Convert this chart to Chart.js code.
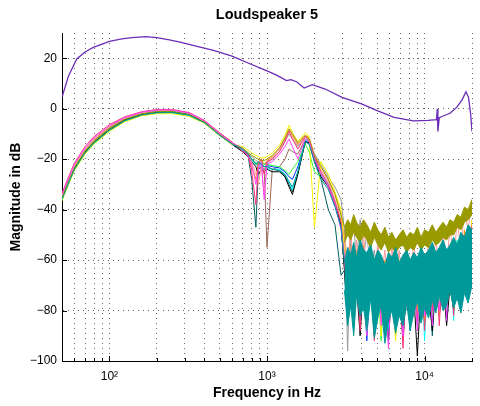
<!DOCTYPE html>
<html>
<head>
<meta charset="utf-8">
<script src="https://cdn.jsdelivr.net/npm/chart.js@4/dist/chart.umd.min.js"></script>
<style>
  html, body { margin: 0; padding: 0; background: #fff; }
  #wrap { width: 480px; height: 406px; }
</style>
</head>
<body>
<div id="wrap"><canvas id="chart" width="480" height="406"></canvas></div>
<script>
// frequency points (Hz) shared by the measurement curves
const freqs = [
  50, 55, 60, 70, 80, 100, 125, 160, 200, 250, 320, 400, 500, 600,
  700, 760, 800, 850, 880, 920, 960, 1000, 1080, 1200, 1300, 1380, 1450, 1570, 1750, 1850, 2000, 2200, 2450, 2700, 2950,
  3100, 3250, 3400, 3550, 3700, 3900, 4100, 4300, 4550, 4800, 5050, 5300, 5600, 5900, 6200, 6550, 6900, 7300, 7700, 8100,
  8550, 9000, 9500, 10000, 10600, 11200, 11800, 12400, 13100, 13800, 14500, 15300, 16100, 17000, 17900, 18900, 20000
];
const bandStart = 35; // first index of the noisy high-frequency band

const tealDb = [
  -36, -29.5, -24, -17.5, -13.5, -8.5, -4.8, -2.5, -1.6, -1.5, -2.6, -5.5, -10.5, -14,
  -16, -18, -20, -22, -21, -22, -23, -23, -24, -24.5, -26, -29, -31, -25, -13, -14, -21, -28, -32, -39, -47,
  -61, -55, -58, -53, -59, -52, -56, -57, -54, -60, -56, -58, -62, -57, -59, -55, -61, -58, -56, -60,
  -57, -59, -55, -58, -56, -53, -57, -55, -52, -56, -54, -51, -54, -49, -51, -46, -48
];
const tealLowDb = [
  -72, -86, -78, -90, -74, -82, -79, -88, -75, -91, -83, -78, -93, -84, -80, -89, -82, -86, -77, -88,
  -81, -76, -85, -79, -83, -76, -81, -74, -80, -78, -72, -79, -75, -81, -73, -77, -70
];
const oliveDb = [
  -35.5, -29, -23.5, -17, -13, -8, -4.3, -2.1, -1.2, -1.2, -2.4, -5.3, -10.3, -13.8,
  -15.5, -17.5, -18.5, -19.5, -20, -20.5, -20.5, -20, -18.5, -15.5, -11.5, -8, -10, -13.5, -10.5, -12, -19, -23, -28, -34, -42,
  -47, -44, -46, -42, -45, -47, -44, -46, -49, -45, -48, -50, -47, -51, -49, -52, -50, -48, -51, -49,
  -50, -47, -51, -48, -49, -46, -49, -47, -45, -47, -44, -45, -42, -43, -39, -40, -36
];
const oliveLowDb = [
  -53, -50, -52, -49, -51, -53, -50, -52, -55, -51, -54, -56, -53, -57, -55, -57, -55, -54, -57, -55,
  -56, -53, -56, -54, -55, -52, -54, -53, -51, -52, -50, -50, -47, -48, -45, -44, -42
];
const magentaDb = [
  -34, -27.5, -22, -15.5, -11.5, -6.8, -3.5, -1.4, -0.5, -0.5, -1.7, -4.8, -9.8, -13.5,
  -16, -19, -22, -30, -24, -21, -36, -22, -21, -18, -15, -12, -15, -20, -12, -13, -20, -26, -31, -38, -48,
  -58, -75, -62, -85, -60, -78, -64, -90, -66, -80, -62, -86, -70, -95, -64, -82, -68, -90, -62, -84,
  -66, -88, -60, -82, -64, -86, -62, -80, -60, -84, -58, -78, -56, -80, -52, -70, -48
];
const hotpinkDb = [
  -33.5, -27, -21.5, -15, -11, -6.3, -3.2, -1.2, -0.3, -0.3, -1.5, -4.6, -9.5, -13.2,
  -17, -18, -25, -38, -22, -20, -26, -21, -20, -17, -13, -9, -12, -16, -11, -12, -19, -25, -30, -37, -45,
  -60, -82, -58, -76, -62, -88, -60, -80, -64, -92, -62, -78, -66, -85, -60, -82, -64, -95, -62, -80,
  -60, -84, -58, -88, -62, -80, -60, -86, -58, -78, -56, -82, -54, -76, -50, -72, -46
];
const yellowDb = [
  -36.5, -30, -24.5, -18, -14, -9, -5.2, -2.8, -2, -2, -3, -5.8, -10.6, -14.2,
  -15, -16.5, -17.5, -18.5, -19, -19.5, -19.5, -19, -17.5, -14.5, -10.5, -6.5, -9.5, -13, -9.5, -11, -47, -21, -26, -33, -40,
  -56, -70, -60, -84, -58, -76, -62, -88, -60, -74, -64, -90, -62, -82, -66, -92, -60, -78, -64, -86,
  -62, -80, -58, -84, -62, -78, -60, -82, -58, -76, -56, -80, -54, -74, -50, -68, -44
];
const salmonDb = [
  -34.5, -28, -22.5, -16, -12, -7, -3.7, -1.6, -0.6, -0.6, -1.8, -4.9, -9.9, -13.4,
  -16, -18, -21, -26, -30, -23, -34, -21, -19.5, -16, -12, -8.5, -11, -14.5, -11, -12.5, -19, -24, -29, -36, -44,
  -50, -62, -48, -66, -52, -70, -50, -64, -54, -72, -52, -68, -56, -74, -54, -70, -56, -76, -54, -68,
  -52, -72, -54, -70, -52, -66, -50, -70, -48, -64, -46, -62, -44, -56, -40, -48, -36
];
const blackDb = [
  -35.8, -29.2, -23.7, -17.2, -13.2, -8.2, -4.5, -2.3, -1.4, -1.3, -2.4, -5.4, -10.4, -14,
  -17, -19, -21, -23, -26, -24, -25, -24, -25, -25, -27, -31, -34, -26, -13, -13.5, -20, -27, -31, -38, -46,
  -64, -84, -66, -78, -70, -90, -68, -82, -72, -88, -70, -80, -74, -92, -70, -84, -76, -90, -72, -86,
  -74, -98, -70, -84, -72, -88, -70, -82, -68, -86, -70, -80, -66, -78, -62, -74, -56
];
const cyanDb = [
  -36.2, -29.8, -24.3, -17.8, -13.8, -8.8, -5, -2.7, -1.8, -1.7, -2.8, -5.6, -10.6, -14.1,
  -16.5, -18.5, -20.5, -22, -23, -22.5, -24, -23.5, -24, -24, -26, -29, -32, -25, -12.5, -13, -19, -26, -30, -37, -45,
  -60, -80, -62, -74, -58, -86, -60, -76, -64, -82, -60, -78, -62, -88, -58, -74, -60, -80, -56, -84,
  -62, -78, -58, -92, -60, -76, -58, -82, -56, -78, -54, -84, -52, -74, -50, -70, -48
];
const greenDb = [
  -35.6, -29, -23.5, -17, -13, -8, -4.4, -2.2, -1.3, -1.2, -2.3, -5.3, -10.3, -13.9,
  -16, -18, -20, -21.5, -22, -21, -22, -22, -22.5, -23, -24.5, -26, -24, -21, -14, -17, -25, -27, -31, -38, -46,
  -62, -78, -64, -84, -60, -76, -66, -88, -62, -80, -66, -92, -64, -82, -60, -78, -64, -86, -62, -80,
  -60, -84, -62, -78, -60, -82, -58, -76, -60, -80, -56, -78, -54, -72, -52, -70, -48
];
const grayDb = [
  -35.2, -28.7, -23.2, -16.7, -12.7, -7.7, -4.1, -1.9, -0.9, -0.9, -2.1, -5.1, -10.1, -13.6,
  -16, -17.5, -19, -20.5, -21, -21.5, -22, -21.5, -20, -17, -13, -10, -12, -15, -11, -13, -18, -22, -27, -31, -36,
  -48, -96, -52, -46, -60, -44, -58, -50, -64, -56, -70, -60, -74, -62, -76, -60, -72, -64, -80, -62,
  -70, -66, -84, -64, -72, -62, -78, -60, -70, -58, -74, -56, -68, -54, -62, -50, -46
];
const orangeDb = [
  -34.8, -28.3, -22.8, -16.3, -12.3, -7.3, -3.8, -1.6, -0.6, -0.5, -1.8, -4.9, -9.9, -13.4,
  -17, -19, -23, -28, -21, -20, -22, -20.5, -19, -16, -12, -8, -10.5, -14, -10.5, -11.5, -18, -23, -28, -34, -42,
  -52, -64, -48, -72, -56, -66, -54, -80, -58, -70, -56, -84, -60, -74, -58, -90, -62, -76, -60, -82,
  -58, -74, -56, -86, -60, -72, -58, -80, -56, -74, -54, -78, -52, -70, -48, -64, -44
];
const darktealDb = [
  -36, -29.6, -24.1, -17.6, -13.6, -8.6, -4.9, -2.6, -1.7, -1.6, -2.7, -5.6, -10.6, -14.2,
  -17, -19, -28, -47, -24, -23, -24, -23, -24, -24.5, -26.5, -30, -33, -25.5, -13, -13.5, -21, -28, -40, -46, -66,
  -64, -82, -60, -70, -66, -86, -64, -76, -68, -90, -66, -80, -70, -88, -66, -78, -70, -92, -68, -82,
  -66, -86, -64, -80, -66, -90, -64, -78, -62, -84, -60, -76, -58, -72, -54, -68, -50
];
const blueDb = [
  -35.4, -28.9, -23.4, -16.9, -12.9, -7.9, -4.2, -2, -1, -1, -2.2, -5.2, -10.2, -13.7,
  -16.5, -18.5, -20, -21.5, -22, -22, -23, -22.5, -23, -23.5, -25, -27, -28, -23, -13, -14, -20, -26, -31, -38, -46,
  -62, -76, -64, -80, -60, -72, -66, -92, -64, -80, -62, -78, -66, -86, -64, -80, -62, -84, -60, -88,
  -64, -78, -60, -82, -62, -86, -60, -80, -58, -84, -56, -76, -54, -74, -52, -68, -48
];
const brownDb = [
  -35.1, -28.6, -23.1, -16.6, -12.6, -7.6, -4, -1.8, -0.8, -0.8, -2, -5, -10, -13.5,
  -16.5, -18, -20, -22, -23, -24, -25, -55, -24, -23, -20, -16, -17, -18, -12, -13, -20, -26, -30, -37, -45,
  -62, -80, -64, -76, -62, -84, -66, -78, -64, -86, -62, -80, -66, -88, -64, -82, -62, -86, -60, -80,
  -64, -84, -62, -78, -60, -82, -58, -80, -56, -78, -56, -74, -54, -72, -50, -68, -46
];

// the smooth curve at the top
const topFreqs = [
  50, 55, 62, 70, 79, 90, 100, 120, 139, 170, 200, 240, 285, 360, 464, 600, 745, 1000, 1150, 1330, 1420,
  1550, 1720, 1940, 2340, 2990, 3980, 5000, 6400, 8500, 10500, 11900, 12050, 12150, 12400, 13000, 14500,
  16000, 17300, 18300, 19000, 19600, 20000
];
const topDb = [
  4.5, 13, 19.7, 22.5, 24.3, 25.6, 26.7, 27.7, 28.2, 28.6, 28.2, 27.3, 26.3, 24.7, 23, 20.8, 18.3, 15, 13.3, 11.1, 11.5,
  10.6, 8.2, 9.5, 7.8, 4.5, 1.9, -0.8, -3.4, -4.8, -4.6, -4.3, 0, -9, -3.6, -3, -1.8,
  0.5, 3.5, 6.7, 4.5, -2, -9
];

const yTicks = [-100, -80, -60, -40, -20, 0, 20];
const xGrid = [50, 60, 70, 80, 90, 100, 200, 300, 400, 500, 600, 700, 800, 900,
  1000, 2000, 3000, 4000, 5000, 6000, 7000, 8000, 9000, 10000, 20000];
const xLabels = { 100: '10²', 1000: '10³', 10000: '10⁴' };

const toPoints = (xs, ys) => xs.map((x, i) => ({ x: x, y: ys[i] }));
const bandPoints = (ys) => freqs.map((x, i) => ({ x: x, y: i < bandStart ? null : ys[i - bandStart] }));

const line = (data, color, extra) => Object.assign({
  data: data,
  borderColor: color,
  backgroundColor: color,
  borderWidth: 1,
  pointRadius: 0,
  fill: false,
  tension: 0
}, extra || {});

// index 0 is painted last (on top)
const datasets = [
  line(toPoints(topFreqs, topDb), '#6a2db5', { borderWidth: 1.3 }),
  line(bandPoints(tealLowDb), '#009999', { fill: '+1' }),
  line(toPoints(freqs, tealDb), '#009999'),
  line(toPoints(freqs, magentaDb), '#ff40ff'),
  line(bandPoints(oliveLowDb), '#999900', { fill: '+1' }),
  line(toPoints(freqs, oliveDb), '#999900'),
  line(toPoints(freqs, hotpinkDb), '#ff3377'),
  line(toPoints(freqs, yellowDb), '#f5f500'),
  line(toPoints(freqs, salmonDb), '#ff9999'),
  line(toPoints(freqs, blackDb), '#000000'),
  line(toPoints(freqs, cyanDb), '#00ffff'),
  line(toPoints(freqs, greenDb), '#33ff33'),
  line(toPoints(freqs, grayDb), '#999999'),
  line(toPoints(freqs, orangeDb), '#ff9900'),
  line(toPoints(freqs, darktealDb), '#005f5f'),
  line(toPoints(freqs, blueDb), '#0033ff'),
  line(toPoints(freqs, brownDb), '#996655')
];

// MATLAB style tick marks pointing into the axes
const innerTicks = {
  id: 'innerTicks',
  afterDraw(chart) {
    const { ctx, chartArea, scales } = chart;
    ctx.save();
    ctx.strokeStyle = '#000';
    ctx.lineWidth = 1;
    ctx.beginPath();
    yTicks.forEach(v => {
      const y = Math.round(scales.y.getPixelForValue(v)) + 0.5;
      ctx.moveTo(chartArea.left, y);
      ctx.lineTo(chartArea.left + 5, y);
    });
    xGrid.forEach(v => {
      const x = Math.round(scales.x.getPixelForValue(v)) + 0.5;
      const len = xLabels[v] ? 5 : 3;
      ctx.moveTo(x, chartArea.bottom);
      ctx.lineTo(x, chartArea.bottom - len);
    });
    ctx.stroke();
    ctx.restore();
  }
};

Chart.defaults.font.family = '"Liberation Sans", Arial, Helvetica, sans-serif';
Chart.defaults.color = '#000';

new Chart(document.getElementById('chart'), {
  type: 'line',
  data: { datasets: datasets },
  plugins: [innerTicks],
  options: {
    responsive: false,
    animation: false,
    layout: { padding: { left: 0, right: 1, top: 0, bottom: 0 } },
    scales: {
      x: {
        type: 'logarithmic',
        min: 50,
        max: 20000,
        afterBuildTicks: scale => { scale.ticks = xGrid.map(v => ({ value: v })); },
        afterFit: scale => { scale.height = 45; },
        ticks: {
          autoSkip: false,
          maxRotation: 0,
          padding: 8,
          font: { size: 12 },
          callback: v => xLabels[v] || ''
        },
        grid: { color: 'rgba(0,0,0,0.6)', drawTicks: false, lineWidth: 1 },
        border: { display: true, color: '#000', width: 1, dash: [1, 4] },
        title: {
          display: true,
          text: 'Frequency in Hz',
          font: { size: 14, weight: 'bold' },
          padding: { top: 0, bottom: 4 }
        }
      },
      y: {
        type: 'linear',
        min: -100,
        max: 30,
        afterBuildTicks: scale => { scale.ticks = yTicks.map(v => ({ value: v })); },
        afterFit: scale => { scale.width = 62; },
        ticks: {
          padding: 5,
          font: { size: 12 },
          callback: v => String(v).replace('-', '\u2212')
        },
        grid: { color: 'rgba(0,0,0,0.6)', drawTicks: false, lineWidth: 1 },
        border: { display: true, color: '#000', width: 1, dash: [1, 4] },
        title: {
          display: true,
          text: 'Magnitude in dB',
          font: { size: 14, weight: 'bold' },
          padding: { top: 8, bottom: 0 }
        }
      }
    },
    plugins: {
      legend: { display: false },
      tooltip: { enabled: false },
      title: {
        display: true,
        text: 'Loudspeaker 5',
        fullSize: false,
        font: { size: 14.5, weight: 'bold', lineHeight: 1.2 },
        padding: { top: 6, bottom: 9.6 }
      },
      filler: { propagate: false }
    }
  }
});
</script>
</body>
</html>
